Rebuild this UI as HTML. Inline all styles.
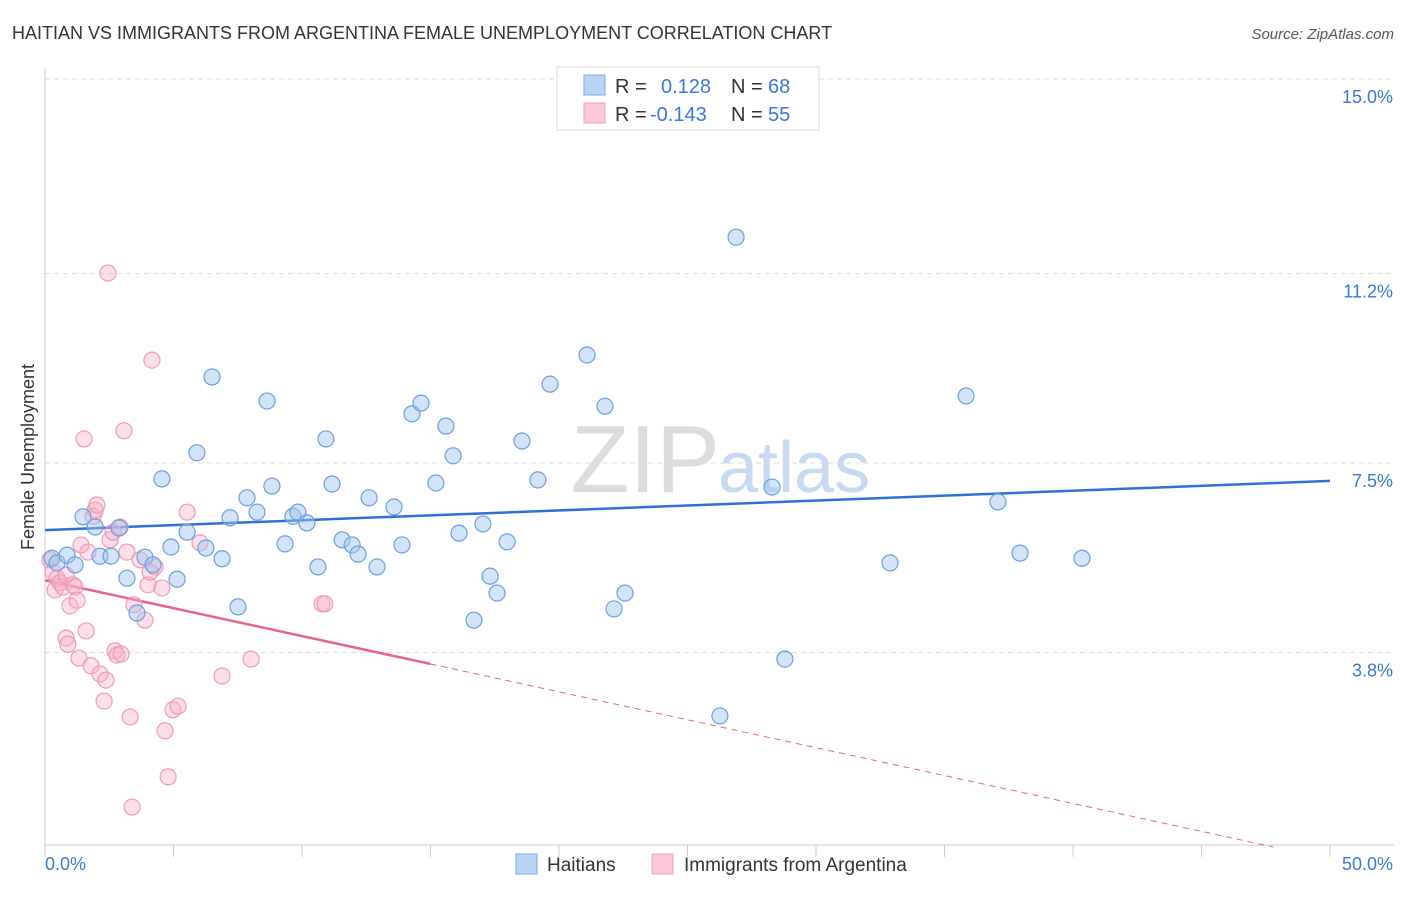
<!DOCTYPE html>
<html><head><meta charset="utf-8">
<style>
body{margin:0;background:#fff;font-family:"Liberation Sans",sans-serif;}
svg text{font-family:"Liberation Sans",sans-serif;}
</style></head>
<body>
<svg id="chart" width="1406" height="892">
<text x="12" y="39" font-size="18" fill="#333">HAITIAN VS IMMIGRANTS FROM ARGENTINA FEMALE UNEMPLOYMENT CORRELATION CHART</text>
<text x="1394" y="39" font-size="15" fill="#555" font-style="italic" text-anchor="end">Source: ZipAtlas.com</text>
<text x="720" y="492" font-size="96" fill="#ddd" font-family="Liberation Serif" text-anchor="end">ZIP</text>
<text x="718" y="492" font-size="72" fill="#c8daf2">atlas</text>
<g id="grid"></g>
<g id="axes"></g>
<g id="trend"></g>
<g id="pts"></g>
<text transform="translate(34,457) rotate(-90)" font-size="18" fill="#333" text-anchor="middle">Female Unemployment</text>
<g>
<rect x="557" y="67" width="262" height="63" fill="#fff" stroke="#ddd"/>
<rect x="584" y="75" width="21" height="20" fill="#b9d3f5" stroke="#7aa8e8"/>
<rect x="584" y="103" width="21" height="20" fill="#fcc8d8" stroke="#f2a0bc"/>
<text x="615" y="93" font-size="20" fill="#333">R =</text>
<text x="661" y="93" font-size="20" fill="#3a78d8">0.128</text>
<text x="731" y="93" font-size="20" fill="#333">N =</text>
<text x="768" y="93" font-size="20" fill="#3a78d8">68</text>
<text x="615" y="121" font-size="20" fill="#333">R =</text>
<text x="650" y="121" font-size="20" fill="#3a78d8">-0.143</text>
<text x="731" y="121" font-size="20" fill="#333">N =</text>
<text x="768" y="121" font-size="20" fill="#3a78d8">55</text>
</g>
<g>
<rect x="516" y="854" width="21" height="20" fill="#b9d3f5" stroke="#7aa8e8"/>
<text x="547" y="871" font-size="19" fill="#333">Haitians</text>
<rect x="652" y="854" width="21" height="20" fill="#fcc8d8" stroke="#f2a0bc"/>
<text x="684" y="871" font-size="19" fill="#333">Immigrants from Argentina</text>
</g>
</svg>
<script>
const yTicks=[3.8,7.5,11.2,15.0];
const yTickLabels=["3.8%","7.5%","11.2%","15.0%"];
const xTickVals=[0,5,10,15,20,25,30,35,40,45,50];
const blueX=[0.27,0.47,0.86,1.17,1.48,1.95,2.14,2.57,2.88,3.19,3.58,3.89,4.20,4.55,4.90,5.14,5.53,5.91,6.26,6.50,6.89,7.20,7.51,7.86,8.25,8.64,8.83,9.34,9.65,9.84,10.19,10.62,10.93,11.17,11.56,11.95,12.18,12.61,12.92,13.58,13.89,14.28,14.63,15.21,15.60,15.88,16.11,16.69,17.04,17.32,17.59,17.98,18.56,19.18,19.65,21.09,21.79,22.14,22.57,26.89,28.29,28.79,26.26,32.88,35.84,37.08,37.94,40.35];
const blueY=[5.64,5.55,5.70,5.51,6.45,6.25,5.68,5.68,6.23,5.25,4.57,5.66,5.51,7.19,5.86,5.23,6.15,7.70,5.84,9.18,5.63,6.43,4.69,6.82,6.54,8.71,7.05,5.92,6.46,6.54,6.33,5.47,7.97,7.09,6.00,5.90,5.72,6.82,5.47,6.64,5.90,8.46,8.67,7.11,8.22,7.64,6.13,4.43,6.31,5.29,4.96,5.96,7.93,7.17,9.04,9.61,8.61,4.65,4.96,11.91,7.03,3.67,2.56,5.55,8.81,6.74,5.74,5.64];
const pinkX=[0.19,0.31,0.39,0.47,0.58,0.70,0.82,0.82,0.89,0.97,1.09,1.17,1.25,1.32,1.40,1.52,1.60,1.67,1.79,1.87,1.95,2.02,2.14,2.30,2.37,2.45,2.53,2.65,2.72,2.80,2.92,2.96,3.07,3.19,3.31,3.39,3.46,3.70,3.89,4.01,4.09,4.16,4.28,4.55,4.67,4.79,4.98,5.18,5.53,6.03,6.89,8.02,10.78,10.89];
const pinkY=[5.61,5.37,5.02,5.25,5.16,5.08,5.31,4.08,3.96,4.71,5.12,5.08,4.82,3.69,5.90,7.97,4.22,5.76,3.54,6.46,6.58,6.68,3.38,2.85,3.26,11.21,6.00,6.15,3.83,3.75,6.25,3.77,8.13,5.76,2.54,0.78,4.73,5.61,4.43,5.12,5.37,9.51,5.47,5.06,2.27,1.37,2.68,2.75,6.54,5.94,3.34,3.67,4.75,4.75];
const blueTrend=[6.19,7.15];
const pinkTrend=[5.21,-0.109];
const NS="http://www.w3.org/2000/svg";
const X=v=>45+v*25.7, Y=v=>847-v*51.2;
function mk(t,a,p){const e=document.createElementNS(NS,t);for(const k in a)e.setAttribute(k,a[k]);document.getElementById(p).appendChild(e);return e;}
mk('line',{x1:45,x2:1394,y1:Y(15),y2:Y(15),stroke:'#ddd','stroke-dasharray':'5,4'},'grid');
yTicks.forEach((v,i)=>{
 const l=mk('line',{x1:45,x2:1394,y1:Y(v)+(i==3?0:0),y2:Y(v),stroke:'#ddd','stroke-dasharray':'5,4'},'grid');
 
 
 const t=mk('text',{x:1393,y:Y(v)+24,'font-size':18,fill:'#3a78d8','text-anchor':'end'},'grid');
 t.textContent=yTickLabels[i];
 
 
});
mk('line',{x1:45,x2:45,y1:68,y2:845,stroke:'#ccc'},'axes');
mk('line',{x1:45,x2:1394,y1:845,y2:845,stroke:'#ccc'},'axes');
xTickVals.forEach(v=>{const l=mk('line',{x1:X(v),x2:X(v),y1:845,y2:857,stroke:'#ccc'},'axes');
 
 });
let t0=mk('text',{x:45,y:870,'font-size':18,fill:'#3a78d8'},'axes');t0.textContent='0.0%';


let t1=mk('text',{x:1393,y:870,'font-size':18,fill:'#3a78d8','text-anchor':'end'},'axes');t1.textContent='50.0%';


function dot(x,y,f,s,n){const c=mk('circle',{cx:X(x),cy:Y(y),r:8,fill:f,stroke:s,'stroke-width':1.2},'pts');
 
 }
pinkX.forEach((x,i)=>dot(x,pinkY[i],'rgba(248,175,200,0.4)','#f09ab8','argentina-point'));
blueX.forEach((x,i)=>dot(x,blueY[i],'rgba(160,196,240,0.45)','#6a9fe0','haitian-point'));
const bl=mk('line',{x1:X(0),y1:Y(blueTrend[0]),x2:X(50),y2:Y(blueTrend[1]),stroke:'#2f6fd6','stroke-width':2.5},'trend');


const pl=mk('line',{x1:X(0),y1:Y(pinkTrend[0]),x2:X(15),y2:Y(pinkTrend[0]+pinkTrend[1]*15),stroke:'#e8628f','stroke-width':2.5},'trend');


const xe=pinkTrend[0]/-pinkTrend[1]>50?50:pinkTrend[0]/-pinkTrend[1];
const pd=mk('line',{x1:X(15),y1:Y(pinkTrend[0]+pinkTrend[1]*15),x2:X(xe),y2:Y(pinkTrend[0]+pinkTrend[1]*xe),stroke:'#e8628f','stroke-width':1,'stroke-dasharray':'6,5'},'trend');


</script>
</body></html>
